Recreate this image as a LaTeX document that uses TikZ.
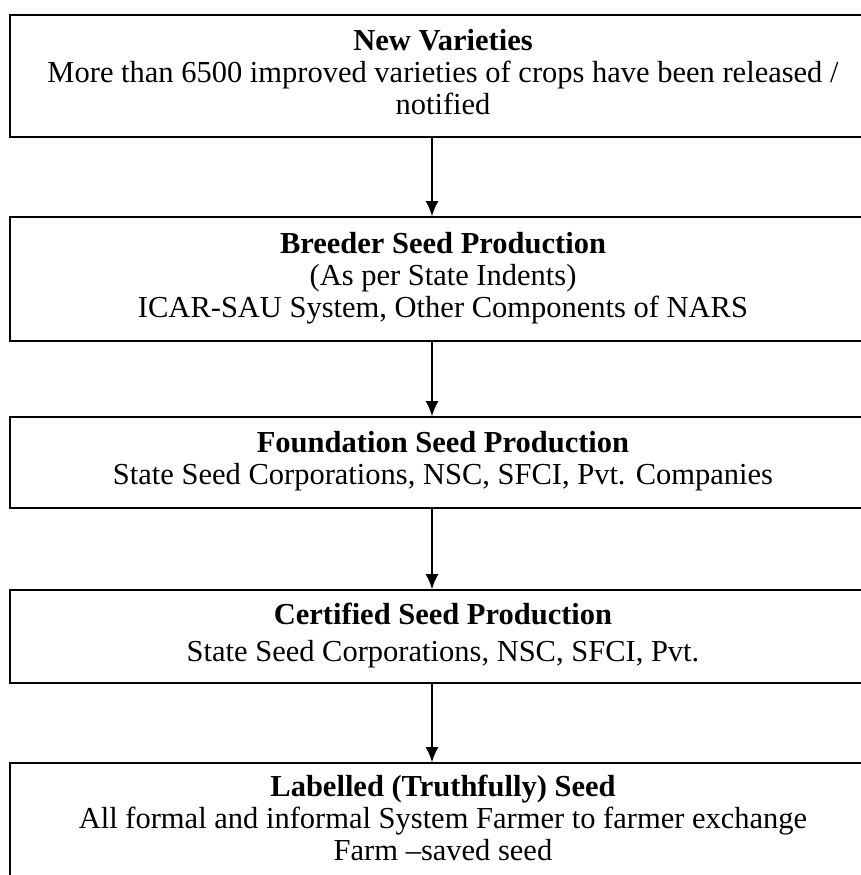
\documentclass[tikz,border=0pt]{standalone}
\usepackage{fontspec}
\setmainfont{Liberation Serif}
\usetikzlibrary{arrows.meta}
\tikzset{
  stagebox/.style={draw=black, line width=1.6pt, rectangle, minimum width=866pt,
    inner sep=0pt, font=\fontsize{30.5}{32}\selectfont},
  flow/.style={-{Latex[length=15pt,width=13pt]}, line width=1.8pt}
}
\begin{document}
\begin{tikzpicture}[x=1pt,y=-1pt]
\useasboundingbox (0,0) rectangle (861,875);
\clip (0,0) rectangle (861,875);
\node[stagebox, minimum height=122pt] (b1) at (443,76)
  {\begin{tabular}{@{}c@{}}\textbf{New Varieties}\\More than 6500 improved varieties of crops have been released /\\notified\end{tabular}};
\node[stagebox, minimum height=124pt] (b2) at (443,279)
  {\begin{tabular}{@{}c@{}}\textbf{Breeder Seed Production}\\(As per State Indents)\\ICAR-SAU System, Other Components of NARS\end{tabular}};
\node[stagebox, minimum height=91pt] (b3) at (443,462.5)
  {\begin{tabular}{@{}c@{}}\textbf{Foundation Seed Production}\\State Seed Corporations, NSC, SFCI, Pvt. Companies\end{tabular}};
\node[stagebox, minimum height=93pt] (b4) at (443,636.5)
  {\begin{tabular}{@{}c@{}}\textbf{Certified Seed Production}\\[5pt]State Seed Corporations, NSC, SFCI, Pvt.\end{tabular}};
\node[stagebox, minimum height=119pt] (b5) at (443,822.5)
  {\begin{tabular}{@{}c@{}}\textbf{Labelled (Truthfully) Seed}\\All formal and informal System Farmer to farmer exchange\\Farm –saved seed\end{tabular}};
\draw[flow] ([xshift=-11pt]b1.south) -- ([xshift=-11pt]b2.north);
\draw[flow] ([xshift=-11pt]b2.south) -- ([xshift=-11pt]b3.north);
\draw[flow] ([xshift=-11pt]b3.south) -- ([xshift=-11pt]b4.north);
\draw[flow] ([xshift=-11pt]b4.south) -- ([xshift=-11pt]b5.north);
\end{tikzpicture}
\end{document}
